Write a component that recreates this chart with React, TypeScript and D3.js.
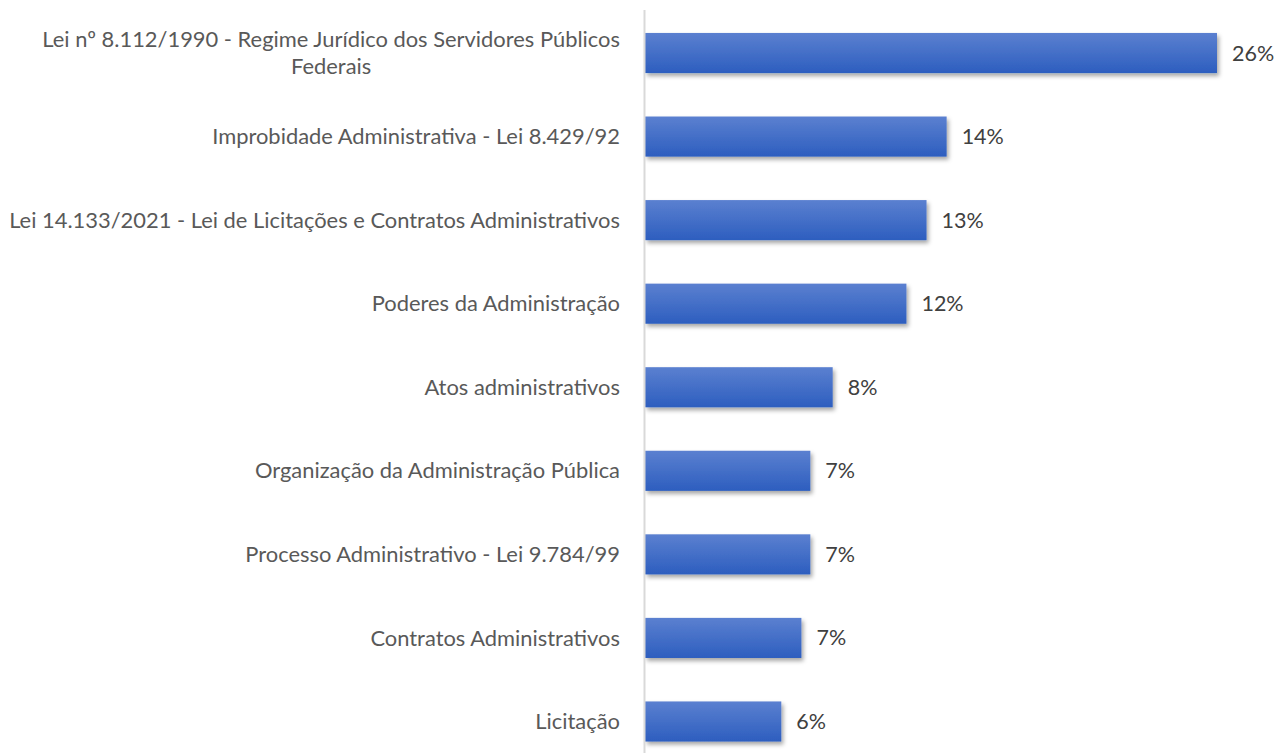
import React, { useEffect, useRef } from "react";
import * as d3 from "d3";

const categories: string[][] = [
  ["Lei nº 8.112/1990 - Regime Jurídico dos Servidores Públicos", "Federais"],
  ["Improbidade Administrativa - Lei 8.429/92"],
  ["Lei 14.133/2021 - Lei de Licitações e Contratos Administrativos"],
  ["Poderes da Administração"],
  ["Atos administrativos"],
  ["Organização da Administração Pública"],
  ["Processo Administrativo - Lei 9.784/99"],
  ["Contratos Administrativos"],
  ["Licitação"],
];
const values: number[] = [25.6, 13.5, 12.6, 11.7, 8.4, 7.4, 7.4, 7.0, 6.1];

const W = 1276;
const H = 753;
const FONT = "Lato, 'Open Sans', sans-serif";

export default function App() {
  const ref = useRef<SVGSVGElement>(null);

  useEffect(() => {
    const svg = d3.select(ref.current);
    svg.selectAll("*").remove();

    const axisX = 645;
    const x = d3.scaleLinear().domain([0, 25.6]).range([axisX, 1217]);
    const idx = categories.map((_, i) => String(i));
    const y = d3.scaleBand().domain(idx).range([-10.5, 785]).padding(0.52);

    const defs = svg.append("defs");
    const grad = defs
      .append("linearGradient")
      .attr("id", "barGrad")
      .attr("x1", 0)
      .attr("y1", 0)
      .attr("x2", 0)
      .attr("y2", 1);
    grad.append("stop").attr("offset", "0%").attr("stop-color", "#5b80d0");
    grad.append("stop").attr("offset", "100%").attr("stop-color", "#2d5ebf");
    const f = defs
      .append("filter")
      .attr("id", "shadow")
      .attr("x", "-10%")
      .attr("y", "-30%")
      .attr("width", "120%")
      .attr("height", "170%");
    f.append("feDropShadow")
      .attr("dx", 2)
      .attr("dy", 3)
      .attr("stdDeviation", 2)
      .attr("flood-color", "#000")
      .attr("flood-opacity", 0.35);

    // bars
    svg
      .append("g")
      .selectAll("rect")
      .data(values)
      .join("rect")
      .attr("x", axisX)
      .attr("y", (_, i) => y(String(i))!)
      .attr("width", (d) => x(d) - axisX)
      .attr("height", y.bandwidth())
      .attr("fill", "url(#barGrad)")
      .attr("filter", "url(#shadow)");

    // axis line
    svg
      .append("line")
      .attr("x1", axisX - 0.5)
      .attr("x2", axisX - 0.5)
      .attr("y1", 10)
      .attr("y2", H)
      .attr("stroke", "#d9d9d9")
      .attr("stroke-width", 2);

    // value labels
    svg
      .append("g")
      .selectAll("text")
      .data(values)
      .join("text")
      .attr("x", (d) => x(d) + 15)
      .attr("y", (_, i) => y(String(i))! + y.bandwidth() / 2)
      .attr("dy", "0.35em")
      .attr("font-family", FONT)
      .attr("font-size", 21.5)
      .attr("fill", "#404040")
      .text((d) => `${Math.round(d)}%`);

    // category labels
    const lineH = 27;
    const labelRight = 620;
    categories.forEach((lines, i) => {
      const cy = y(String(i))! + y.bandwidth() / 2;
      const g = svg.append("g");
      const texts = lines.map((ln, k) =>
        g
          .append("text")
          .attr("y", cy + (k - (lines.length - 1) / 2) * lineH)
          .attr("dy", "0.35em")
          .attr("text-anchor", "middle")
          .attr("font-family", FONT)
          .attr("font-size", 21.9)
          .attr("fill", "#595959")
          .text(ln)
      );
      const maxW = d3.max(texts, (t) => (t.node() as SVGTextElement).getComputedTextLength()) || 0;
      texts.forEach((t) => t.attr("x", labelRight - maxW / 2));
    });
  }, []);

  return (
    <svg
      ref={ref}
      width={W}
      height={H}
      style={{ position: "absolute", left: 0, top: 0, background: "#fff" }}
    />
  );
}
